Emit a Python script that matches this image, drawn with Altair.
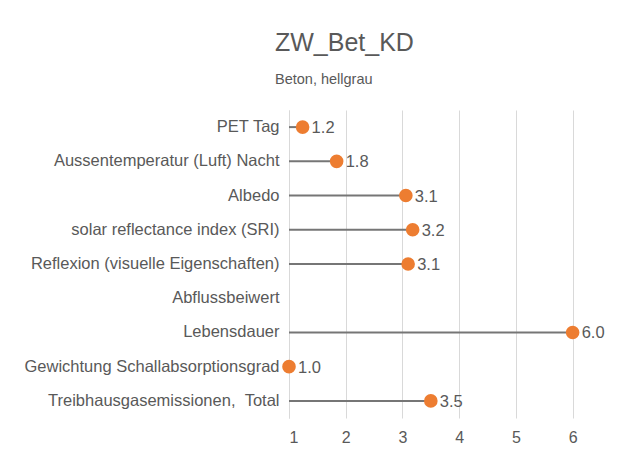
import altair as alt
import pandas as pd

categories = [
    "PET Tag",
    "Aussentemperatur (Luft) Nacht",
    "Albedo",
    "solar reflectance index (SRI)",
    "Reflexion (visuelle Eigenschaften)",
    "Abflussbeiwert",
    "Lebensdauer",
    "Gewichtung Schallabsorptionsgrad",
    "Treibhausgasemissionen, \u00a0Total",
]
values = [1.24, 1.84, 3.06, 3.18, 3.1, None, 6.0, 1.0, 3.5]
x_ticks = [1, 2, 3, 4, 5, 6]

df = pd.DataFrame({"Kriterium": categories, "Wert": values})

FONT = "Liberation Sans"
TXT = "#595959"

y_enc = alt.Y(
    "Kriterium:N",
    sort=categories,
    scale=alt.Scale(domain=categories, paddingInner=0, paddingOuter=0),
    axis=alt.Axis(
        title=None,
        ticks=False,
        domain=True,
        domainColor="#d9d9d9",
        domainWidth=1,
        labelFont=FONT,
        labelFontSize=16.5,
        labelColor=TXT,
        labelPadding=10,
        labelLimit=400,
    ),
)

x_scale = alt.Scale(domain=[1, 6.5], nice=False, zero=False)

base = alt.Chart(df)

rules = base.mark_rule(color="#767676", strokeWidth=2).encode(
    x=alt.X(
        "Wert:Q",
        scale=x_scale,
        axis=alt.Axis(
            title=None,
            values=x_ticks,
            format="d",
            domain=False,
            ticks=False,
            grid=True,
            gridColor="#d9d9d9",
            gridWidth=1,
            labelFont=FONT,
            labelFontSize=16,
            labelColor=TXT,
            labelPadding=11,
        ),
    ),
    x2=alt.datum(1),
    y=y_enc,
)

points = base.mark_circle(size=185, color="#ED7D31", opacity=1).encode(
    x=alt.X("Wert:Q", scale=x_scale),
    y=y_enc,
)

labels = base.mark_text(
    align="left", baseline="middle", dx=9, dy=1, font=FONT, fontSize=16.5, color=TXT
).encode(
    x=alt.X("Wert:Q", scale=x_scale),
    y=y_enc,
    text=alt.Text("Wert:Q", format=".1f"),
)

chart = (
    alt.layer(rules, points, labels)
    .properties(
        width=312,
        height=308,
        autosize=alt.AutoSizeParams(type="none"),
        padding={"left": 281, "top": 102, "right": 10, "bottom": 30},
        background="white",
        title=alt.TitleParams(
            text="ZW_Bet_KD",
            subtitle="Beton, hellgrau",
            anchor="start",
            frame="group",
            dx=-14,
            offset=24,
            font=FONT,
            fontSize=25,
            fontWeight="normal",
            color=TXT,
            subtitleFont=FONT,
            subtitleFontSize=14.5,
            subtitleColor=TXT,
            subtitlePadding=17,
        ),
    )
    .configure_view(stroke=None)
)

chart.save("out.html", embed_options={"renderer": "svg", "actions": False})
